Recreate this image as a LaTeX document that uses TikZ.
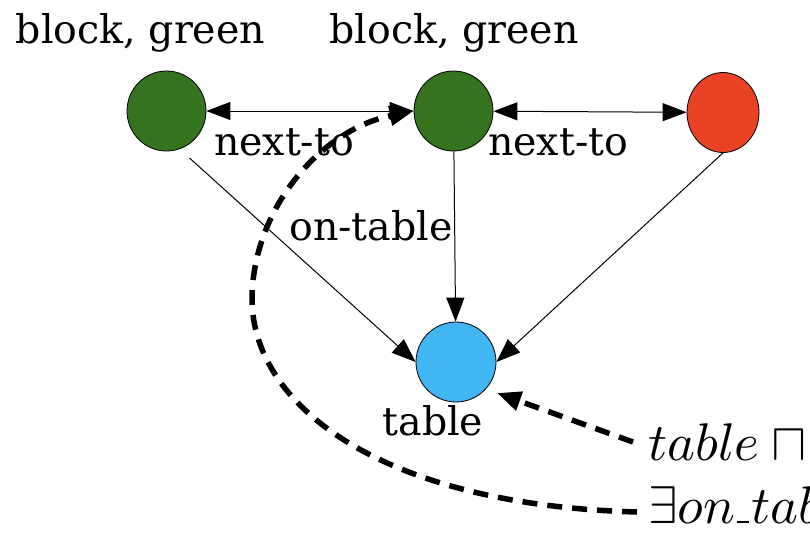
\documentclass[tikz,border=0pt]{standalone}
\usepackage{graphicx}
\usepackage{fontspec}
\newfontfamily\lblfont{DejaVu Serif}
\usetikzlibrary{arrows.meta,shapes.geometric,calc}
\definecolor{gr}{RGB}{54,115,31}
\definecolor{rd}{RGB}{234,66,36}
\definecolor{bl}{RGB}{66,181,243}
\begin{document}
\begin{tikzpicture}[x=1pt,y=-1pt,
 blob/.style={ellipse,draw=black,line width=0.8pt,minimum width=79pt,minimum height=80pt,inner sep=0pt},
 lbl/.style={font=\lblfont\fontsize{39.5}{44}\selectfont,inner sep=0pt,anchor=base},
 mth/.style={font=\fontsize{10}{12}\selectfont,inner sep=0pt,anchor=base west},
 edge/.style={line width=1pt,-{Triangle[length=24pt,width=18pt]}},
 bedge/.style={line width=1pt,{Triangle[length=24pt,width=18pt]}-{Triangle[length=24pt,width=18pt]}},
 dedge/.style={line width=5.5pt,dash pattern=on 15pt off 10pt,-{Triangle[length=24pt,width=19pt]}}
 ]
\clip (0,0) rectangle (810,533);
\useasboundingbox (0,0) rectangle (810,533);
% nodes
\node[blob,fill=gr] (A) at (166.5,111) {};
\node[blob,fill=gr] (B) at (453.5,111) {};
\node[blob,fill=rd,minimum width=72pt] (C) at (723,112.5) {};
\node[blob,fill=bl,minimum width=80pt] (D) at (456,362) {};
% labels
\node[lbl] (l1) at (140.5,43) {block, green};
\node[lbl] (l2) at (454,43) {block, green};
\node[lbl] (n1) at (284,155) {next-to};
\node[lbl] (n2) at (558,155) {next-to};
\node[lbl] (ot) at (371,240) {on-table};
\node[lbl] (tl) at (433,435) {table};
\node[mth] (m1) at (648,460) {\scalebox{5.3}{$table \sqcap {}$}};
\node[mth] (m2) at (648,523) {\scalebox{5.3}{$\exists on\kern0.04em\rule{0.22em}{0.04em}\kern0.04em table$}};
% edges
\draw[bedge] (A) -- (B);
\draw[bedge] (B) -- (C);
\draw[edge] (B) -- (D);
\coordinate (a1) at ($(A)+(23,47)$);
\draw[edge] (a1) -- (D.west);
\draw[edge] (C.south) -- (D.east);
\coordinate (t1) at ($(m1.base west)+(-15,-18)$);
\coordinate (h1) at ($(D)+(41,31)$);
\draw[dedge] (t1) -- (h1);
\coordinate (t2) at ($(m2.base west)+(-11,-11)$);
\draw[dedge] (t2) .. controls (380,505) and (253,405) .. (252,300)
  .. controls (252,210) and (320,130) .. (B.west);
\end{tikzpicture}
\end{document}
